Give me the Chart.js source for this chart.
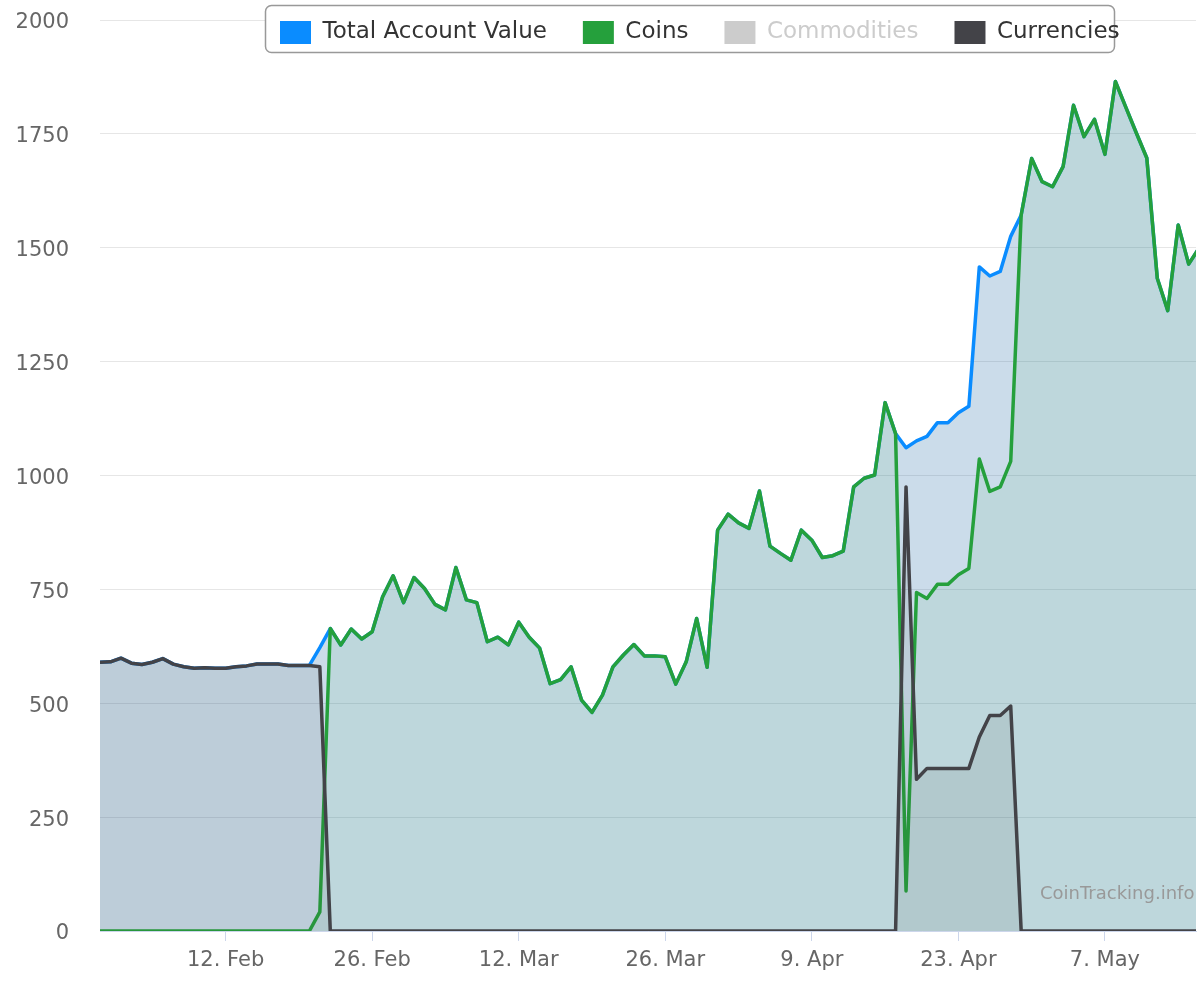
<!DOCTYPE html>
<html>
<head>
<meta charset="utf-8">
<title>Account value</title>
<script src="https://cdn.jsdelivr.net/npm/chart.js@4.4.1/dist/chart.umd.min.js"></script>
<style>
  html, body { margin: 0; padding: 0; background: #fff; }
  #wrap { width: 1200px; height: 1000px; }
</style>
</head>
<body>
<div id="wrap"><canvas id="chart"></canvas></div>
<script>
// Daily values from 31 Jan (day 0) to 16 May (day 105)
const totalValue = [
  590, 591, 599, 588, 585, 590, 598, 586, 580, 577,
  578, 577, 577, 580, 582, 586, 586, 586, 583, 583,
  583, 622, 664, 628, 663, 641, 657, 734, 780, 721,
  776, 752, 717, 705, 798, 727, 721, 635, 645, 628,
  678, 645, 621, 543, 552, 580, 507, 480, 518, 580,
  606, 629, 604, 604, 602, 542, 591, 686, 579, 880,
  915, 896, 884, 966, 845, 829, 814, 880, 858, 820,
  824, 834, 975, 994, 1001, 1160, 1092, 1061, 1076, 1086,
  1116, 1116, 1138, 1152, 1458, 1438, 1448, 1525, 1572, 1696,
  1645, 1634, 1678, 1813, 1744, 1782, 1705, 1865, 1808, 1752,
  1697, 1433, 1362, 1550, 1464, 1500
];
const coins = [
  0, 0, 0, 0, 0, 0, 0, 0, 0, 0,
  0, 0, 0, 0, 0, 0, 0, 0, 0, 0,
  0, 42, 664, 628, 663, 641, 657, 734, 780, 721,
  776, 752, 717, 705, 798, 727, 721, 635, 645, 628,
  678, 645, 621, 543, 552, 580, 507, 480, 518, 580,
  606, 629, 604, 604, 602, 542, 591, 686, 579, 880,
  915, 896, 884, 966, 845, 829, 814, 880, 858, 820,
  824, 834, 975, 994, 1001, 1160, 1092, 88, 743, 730,
  761, 761, 782, 796, 1036, 965, 975, 1031, 1572, 1696,
  1645, 1634, 1678, 1813, 1744, 1782, 1705, 1865, 1808, 1752,
  1697, 1433, 1362, 1550, 1464, 1500
];
const commodities = [];
const currencies = [
  590, 591, 599, 588, 585, 590, 598, 586, 580, 577,
  578, 577, 577, 580, 582, 586, 586, 586, 583, 583,
  583, 580, 0, 0, 0, 0, 0, 0, 0, 0,
  0, 0, 0, 0, 0, 0, 0, 0, 0, 0,
  0, 0, 0, 0, 0, 0, 0, 0, 0, 0,
  0, 0, 0, 0, 0, 0, 0, 0, 0, 0,
  0, 0, 0, 0, 0, 0, 0, 0, 0, 0,
  0, 0, 0, 0, 0, 0, 0, 975, 333, 357,
  357, 357, 357, 357, 426, 473, 473, 494, 0, 0,
  0, 0, 0, 0, 0, 0, 0, 0, 0, 0,
  0, 0, 0, 0, 0, 0
];

const tickDays = [12, 26, 40, 54, 68, 82, 96];
const tickLabels = ['12. Feb', '26. Feb', '12. Mar', '26. Mar', '9. Apr', '23. Apr', '7. May'];
const yTicks = [0, 250, 500, 750, 1000, 1250, 1500, 1750, 2000];

const toPoints = (arr) => arr.map((v, i) => ({ x: i, y: v }));

Chart.defaults.font.family = 'DejaVu Sans';
Chart.defaults.color = '#666666';

// legend frame and watermark (highcharts look)
const frame = { x: 265, y: 5, w: 849, h: 47, r: 6 };

const decor = {
  id: 'decor',
  beforeLayout(chart) {
    // legend floats over the plot, so it takes no room in the layout
    const lg = chart.legend;
    if (lg && !lg._floatPatched) {
      const fit = lg.fit;
      lg.fit = function () {
        fit.call(this);
        this._realHeight = this.height;
        this.height = 0;
      };
      lg._floatPatched = true;
    }
  },
  afterLayout(chart) {
    const lg = chart.legend;
    const pad = lg.options.labels.padding;
    lg.left = frame.x + 15 - pad;
    lg.right = lg.left + lg.width;
    lg.top = frame.y + 16 - pad;
    lg.bottom = lg.top + (lg._realHeight || 100);
  },
  afterDraw(chart) {
    const ctx = chart.ctx;
    ctx.save();
    ctx.beginPath();
    ctx.roundRect(frame.x + 0.5, frame.y + 0.5, frame.w, frame.h, frame.r);
    ctx.fillStyle = '#ffffff';
    ctx.fill();
    ctx.lineWidth = 1.5;
    ctx.strokeStyle = '#999999';
    ctx.stroke();
    ctx.restore();
    chart.legend.draw();

    ctx.save();
    ctx.font = '18px "DejaVu Sans"';
    ctx.fillStyle = '#999999';
    ctx.textAlign = 'left';
    ctx.textBaseline = 'alphabetic';
    ctx.fillText('CoinTracking.info', 1040, 899);
    ctx.restore();
  }
};

new Chart(document.getElementById('chart'), {
  type: 'line',
  data: {
    datasets: [
      { label: 'Total Account Value', data: toPoints(totalValue), borderColor: '#0a8cff',
        backgroundColor: 'rgba(47,115,171,0.25)', fill: 'origin', order: 3 },
      { label: 'Coins', data: toPoints(coins), borderColor: '#25a03c',
        backgroundColor: 'rgba(37,160,60,0.08)', fill: 'origin', order: 2 },
      { label: 'Commodities', data: toPoints(commodities), borderColor: '#cccccc',
        backgroundColor: 'rgba(204,204,204,0.1)', fill: 'origin', order: 1, hidden: true },
      { label: 'Currencies', data: toPoints(currencies), borderColor: '#434348',
        backgroundColor: 'rgba(67,67,72,0.1)', fill: 'origin', order: 0 }
    ]
  },
  options: {
    responsive: true,
    maintainAspectRatio: false,
    animation: false,
    layout: { padding: { top: 20, right: 4, left: 0, bottom: 0 } },
    elements: {
      line: { borderWidth: 3.5, tension: 0, borderJoinStyle: 'round' },
      point: { radius: 0, hoverRadius: 0 }
    },
    scales: {
      x: {
        type: 'linear',
        min: 0,
        max: 104.7,
        afterBuildTicks: (scale) => { scale.ticks = tickDays.map(v => ({ value: v })); },
        afterFit: (scale) => { scale.height = 69; },
        ticks: {
          autoSkip: false,
          maxRotation: 0,
          padding: 7,
          font: { size: 21 },
          color: '#666666',
          callback: (v) => tickLabels[tickDays.indexOf(v)]
        },
        grid: { drawOnChartArea: false, drawTicks: true, tickLength: 10, color: '#ccd6eb', lineWidth: 1 },
        border: { color: '#ccd6eb', width: 1 }
      },
      y: {
        min: 0,
        max: 2000,
        afterBuildTicks: (scale) => { scale.ticks = yTicks.map(v => ({ value: v })); },
        afterFit: (scale) => {
          scale.width = 100;
          scale.paddingTop = 0;
          scale.paddingBottom = 0;
        },
        ticks: { padding: 31, labelOffset: 3, font: { size: 21 }, color: '#666666', callback: (v) => String(v) },
        grid: { color: '#e6e6e6', lineWidth: 1, drawTicks: false },
        border: { display: false }
      }
    },
    plugins: {
      tooltip: { enabled: false },
      legend: {
        position: 'top',
        align: 'start',
        labels: {
          boxWidth: 31,
          boxHeight: 23,
          padding: 36,
          color: '#333333',
          font: { size: 23 },
          sort: (a, b) => a.datasetIndex - b.datasetIndex,
          generateLabels(chart) {
            const items = Chart.defaults.plugins.legend.labels.generateLabels(chart);
            items.forEach((it) => {
              const ds = chart.data.datasets[it.datasetIndex];
              it.fillStyle = ds.borderColor;
              it.strokeStyle = ds.borderColor;
              it.lineWidth = 0;
              if (it.hidden) {
                it.hidden = false;
                it.fontColor = '#cccccc';
              }
            });
            return items;
          }
        }
      }
    }
  },
  plugins: [decor]
});
</script>
</body>
</html>
